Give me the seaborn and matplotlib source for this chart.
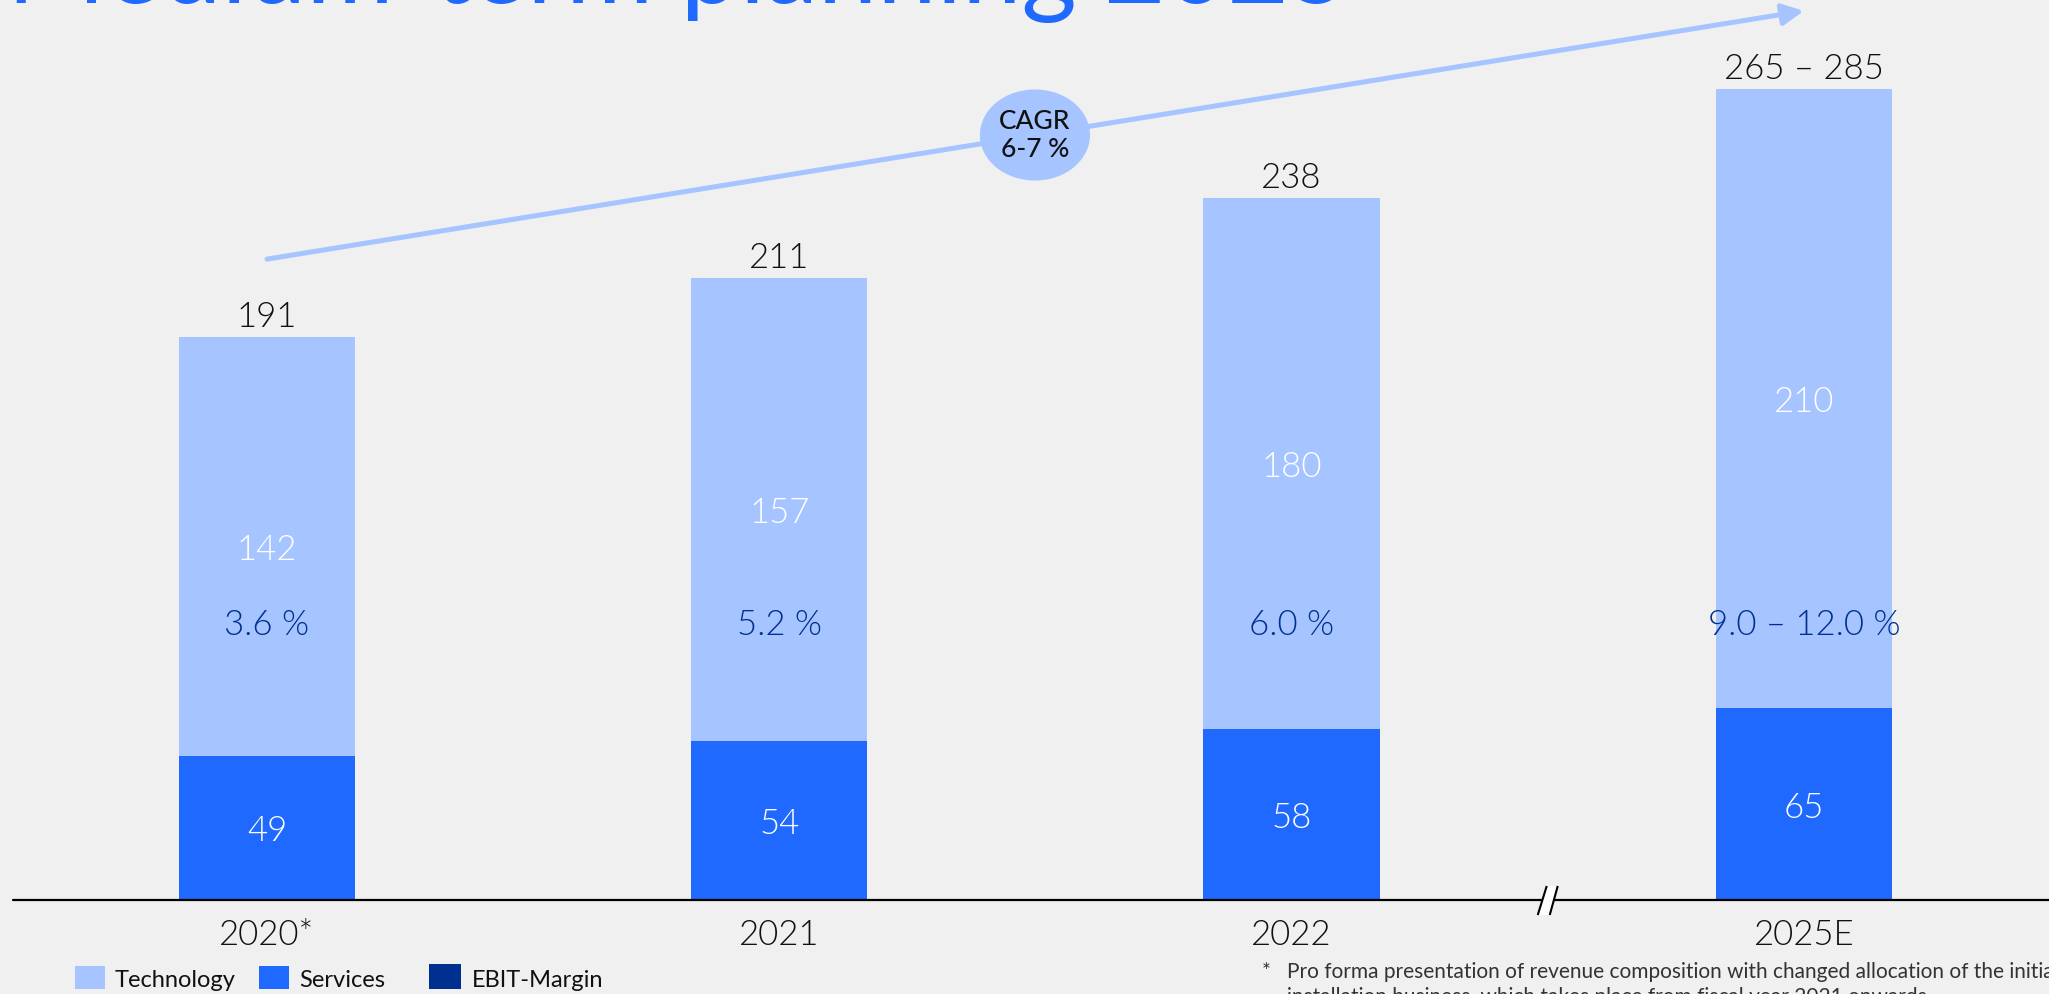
import matplotlib
matplotlib.use("Agg")
import matplotlib.pyplot as plt
from matplotlib.patches import Ellipse, Rectangle, Polygon
from matplotlib.transforms import Affine2D
import seaborn as sns
import pandas as pd

# ---- data -------------------------------------------------------------
years = ["2020*", "2021", "2022", "2025E"]
technology = [142, 157, 180, 210]
services = [49, 54, 58, 65]
total_labels = ["191", "211", "238", "265 – 285"]
ebit_margin = ["3.6 %", "5.2 %", "6.0 %", "9.0 – 12.0 %"]
cagr_text = "CAGR\n6-7 %"
title = "Medium-term planning 2025"
legend_items = ["Technology", "Services", "EBIT-Margin"]
footnote = ["Pro forma presentation of revenue composition with changed allocation of the initial",
            "installation business, which takes place from fiscal year 2021 onwards."]

# ---- style ------------------------------------------------------------
BG = "#f0f0f0"
TECH = "#a6c4ff"
SERV = "#1f69ff"
EBIT = "#00308f"
INK = "#111111"

sns.set_theme(style="white")
plt.rcParams["font.family"] = ["Lato", "DejaVu Sans"]

W, H = 2049, 995
fig = plt.figure(figsize=(W / 100, H / 100), dpi=100, facecolor=BG)
ax = fig.add_axes([0, 0, 1, 1])
ax.set_facecolor(BG)

# ---- stacked bars -----------------------------------------------------
totals = [t + s for t, s in zip(technology, services)]
df = pd.DataFrame({"year": years, "total": totals, "services": services})
BAR_W = 0.344
sns.barplot(data=df, x="year", y="total", color=TECH, width=BAR_W,
            saturation=1, linewidth=0, ax=ax)
sns.barplot(data=df, x="year", y="services", color=SERV, width=BAR_W,
            saturation=1, linewidth=0, ax=ax)

# axis scale: one category step = 512.3 px, one unit = 2.948 px
STEP, UNIT, X0, BASE = 512.3, 2.948, 267, 94
ax.set_xlim(-X0 / STEP, (W - X0) / STEP)
ax.set_ylim(-BASE / UNIT, (H - BASE) / UNIT)
ax.axis("off")

# baseline with a break marker between 2022 and 2025E
ax.axhline(0, xmin=13 / W, xmax=1, color="black", lw=1.6, zorder=3)
cx, cy = ax.transData.transform((2.5, 0))
brk = Affine2D().translate(cx, cy)
ax.add_patch(Polygon([(-1, 14), (10, 14), (2, -15), (-10, -15)], closed=True,
                     facecolor="white", edgecolor="none",
                     transform=brk, zorder=4))
for (x1, y1), (x2, y2) in [((-1, 14), (-10, -15)), ((10, 14), (2, -15))]:
    ax.plot([x1, x2], [y1, y2], color="black", lw=1.5, transform=brk,
            zorder=5, solid_capstyle="butt")

# ---- labels -----------------------------------------------------------
VAL_FS = 25
VAL_W = 300
EBIT_ROW = 94.6
for i in range(len(years)):
    ax.annotate(total_labels[i], (i, totals[i]), xytext=(0, 8),
                textcoords="offset points", ha="center", va="baseline",
                fontsize=VAL_FS, fontweight=VAL_W, color=INK)
    ax.annotate(str(technology[i]), (i, services[i] + technology[i] / 2),
                xytext=(0, -9), textcoords="offset points", ha="center",
                va="baseline", fontsize=VAL_FS, fontweight=VAL_W, color="white")
    ax.annotate(str(services[i]), (i, services[i] / 2), xytext=(0, -9),
                textcoords="offset points", ha="center", va="baseline",
                fontsize=VAL_FS, fontweight=VAL_W, color="white")
    ax.annotate(ebit_margin[i], (i, EBIT_ROW), xytext=(0, -9),
                textcoords="offset points", ha="center", va="baseline",
                fontsize=VAL_FS, fontweight=VAL_W, color=EBIT)
    ax.annotate(years[i], (i, 0), xytext=(0, -32), textcoords="offset points",
                ha="center", va="baseline", fontsize=VAL_FS,
                fontweight=VAL_W, color=INK)

# ---- CAGR arrow and bubble -------------------------------------------
ax.annotate("", xy=(3.0, 301.6), xytext=(0.0, 217.4),
            arrowprops=dict(arrowstyle="-|>", color=TECH, lw=3.6,
                            mutation_scale=32, shrinkA=0, shrinkB=0),
            zorder=2)
ax.add_patch(Ellipse((1.499, 259.5), 0.215, 30.9, facecolor=TECH,
                     edgecolor="none", zorder=6))
ax.text(1.499, 259.5, cagr_text, ha="center", va="center", fontsize=19,
        fontweight="medium", color=INK, linespacing=1.15, zorder=7)

# ---- title ------------------------------------------------------------
fig.text(7 / W, 1 - 3 / H, title, ha="left", va="baseline", fontsize=76.5,
         color=SERV)

# ---- legend -----------------------------------------------------------
def fx(px):
    return px / W


def fy(py):
    return 1 - py / H


swatches = [(75, 967, 30, 23, TECH), (259, 967, 30, 23, SERV),
            (429, 965, 32, 25, EBIT)]
label_x = [115, 299, 472]
for (x, y, w, h, c), lx, name in zip(swatches, label_x, legend_items):
    fig.add_artist(Rectangle((fx(x), fy(y + h)), w / W, h / H,
                             transform=fig.transFigure, facecolor=c,
                             edgecolor="none"))
    fig.text(fx(lx), fy(987), name, ha="left", va="baseline", fontsize=17,
             color=INK)

# ---- footnote ---------------------------------------------------------
FN_FS = 15
fig.text(fx(1262), fy(978), "*", ha="left", va="baseline", fontsize=FN_FS,
         color="#333333")
fig.text(fx(1287), fy(978), footnote[0], ha="left", va="baseline",
         fontsize=FN_FS, color="#333333")
fig.text(fx(1287), fy(1003), footnote[1], ha="left", va="baseline",
         fontsize=FN_FS, color="#333333")

fig.savefig("out.png", dpi=100, facecolor=BG)
